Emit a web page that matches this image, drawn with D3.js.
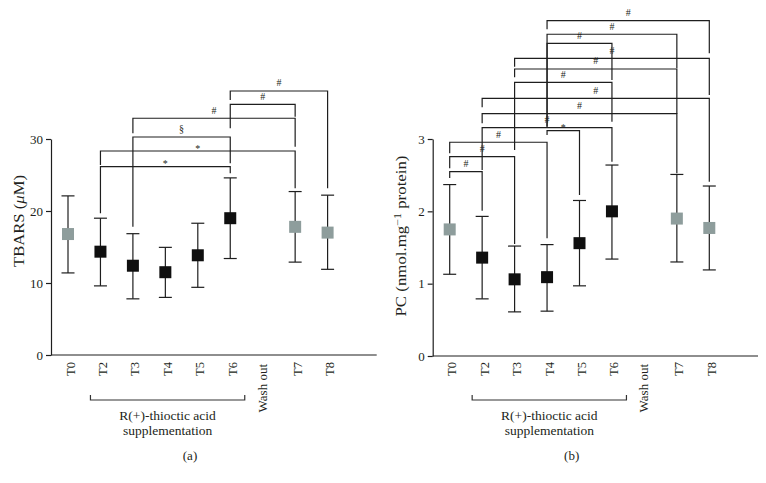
<!DOCTYPE html>
<html><head><meta charset="utf-8">
<script src="https://cdn.jsdelivr.net/npm/d3@7"></script>
<style>
body{margin:0;background:#fff}
svg{display:block}
text{font-family:"Liberation Serif","Times New Roman",serif;fill:#231f20}
</style>
</head><body>
<svg id="chart" width="766" height="483"></svg>
<script>
// ---- data ----
const categories = ["T0","T2","T3","T4","T5","T6","Wash out","T7","T8"];
const timepoints = ["T0","T2","T3","T4","T5","T6","T7","T8"];
const supplemented = [false,true,true,true,true,true,false,false];

const tbarsTicks = [0,10,20,30];
const tbarsMean = [16.8,14.35,12.4,11.5,13.85,19.0,17.8,17.0];
const tbarsLow  = [11.4,9.6,7.8,8.0,9.4,13.4,12.9,11.9];
const tbarsHigh = [22.1,19.0,16.85,14.95,18.3,24.6,22.7,22.2];

const tbarsBrFrom    = ["T2","T2","T3","T3","T6","T6"];
const tbarsBrTo      = ["T6","T7","T6","T7","T7","T8"];
const tbarsBrLevel   = [26.15,28.33,30.28,32.88,34.82,36.67];
const tbarsBrFromEnd = [19.68,26.39,17.82,30.79,31.49,35.42];
const tbarsBrToEnd   = [25.24,23.15,26.63,28.93,33.1,23.15];
const tbarsBrMark    = ["*","*","§","#","#","#"];

const pcTicks = [0,1,2,3];
const pcMean = [1.75,1.36,1.06,1.09,1.56,2.00,1.90,1.77];
const pcLow  = [1.13,0.79,0.61,0.62,0.97,1.34,1.30,1.19];
const pcHigh = [2.37,1.93,1.52,1.54,2.15,2.64,2.51,2.35];

const pcBrFrom    = ["T4","T4","T4","T3","T3","T3","T2","T2","T2","T4","T0","T0","T0"];
const pcBrTo      = ["T8","T7","T6","T8","T7","T6","T8","T7","T6","T5","T4","T3","T2"];
const pcBrLevel   = [4.636,4.448,4.323,4.116,3.968,3.784,3.563,3.350,3.156,3.115,2.955,2.755,2.548];
const pcBrFromEnd = [4.517,3.170,3.170,4.0,3.853,2.848,3.438,3.217,2.572,3.055,2.802,2.595,2.461];
const pcBrToEnd   = [4.185,3.978,3.816,3.608,3.350,3.239,2.410,2.526,2.686,2.226,1.627,1.548,2.009];
const pcBrMark    = ["#","#","#","#","#","#","#","#","#","*","#","#","#"];

const suppText = ["R(+)-thioctic acid","supplementation"];

// ---- drawing ----
const svg = d3.select("#chart");
const GRAY = "#8e9d9c", BLACK = "#0f0f0f", LINE = "#1e1e1e";

function panel(o) {
  const g = svg.append("g");
  const x = d3.scalePoint().domain(categories).range([o.axisX + 17, o.axisX + 17 + 8 * 32.45]);
  const y = d3.scaleLinear().domain([0, o.yMax]).range([o.axisY, o.yTop]);

  // y axis
  const ya = g.append("g").attr("transform", `translate(${o.axisX},0)`)
    .call(d3.axisLeft(y).tickValues(o.ticks).tickSize(5).tickSizeOuter(0).tickPadding(3).tickFormat(d3.format("d")));
  ya.selectAll("path,line").attr("stroke", LINE).attr("stroke-width", 1.2);
  ya.selectAll("text").attr("font-size", 13).attr("font-family", "Liberation Serif").attr("fill", "#231f20");

  // x axis line
  g.append("line").attr("x1", o.axisX).attr("x2", o.axisEnd).attr("y1", o.axisY).attr("y2", o.axisY)
    .attr("stroke", LINE).attr("stroke-width", 1.2);

  // x tick labels
  categories.forEach(c => {
    const wash = c === "Wash out";
    g.append("text")
      .attr("transform", `translate(${x(c) + (wash ? 4 : 6.5)},${wash ? 364 : 362}) rotate(-90)`)
      .attr("text-anchor", "end").attr("font-size", wash ? 13 : 12.5).text(c);
  });

  // y label
  const yl = g.append("text")
    .attr("transform", `translate(${o.yLabX},${o.yLabY}) rotate(-90)`)
    .attr("text-anchor", "middle").attr("font-size", 14)
    .attr("textLength", o.yLabLen).attr("lengthAdjust", "spacingAndGlyphs");
  o.yLabel(yl);

  // brackets
  o.brFrom.forEach((f, i) => {
    const t = o.brTo[i];
    g.append("path")
      .attr("d", `M${x(f)},${y(o.brFromEnd[i])}V${y(o.brLevel[i])}H${x(t)}V${y(o.brToEnd[i])}`)
      .attr("fill", "none").attr("stroke", LINE).attr("stroke-width", 1.2);
    const m = o.brMark[i];
    g.append("text").attr("x", (x(f) + x(t)) / 2).attr("y", y(o.brLevel[i]) + (m === "*" ? 0.5 : -4.5))
      .attr("text-anchor", "middle").attr("font-size", 10).text(m);
  });

  // error bars + squares
  timepoints.forEach((c, i) => {
    const cx = x(c);
    g.append("line").attr("x1", cx).attr("x2", cx).attr("y1", y(o.low[i])).attr("y2", y(o.high[i]))
      .attr("stroke", LINE).attr("stroke-width", 1.2);
    [o.low[i], o.high[i]].forEach(v => {
      g.append("line").attr("x1", cx - 6.5).attr("x2", cx + 6.5).attr("y1", y(v)).attr("y2", y(v))
        .attr("stroke", LINE).attr("stroke-width", 1.2);
    });
    g.append("rect").attr("x", cx - 6).attr("y", y(o.mean[i]) - 6).attr("width", 12).attr("height", 12)
      .attr("fill", supplemented[i] ? BLACK : GRAY);
  });

  // supplementation bracket
  const bx1 = x("T2") - 10, bx2 = x("T6") + 14.5;
  g.append("path").attr("d", `M${bx1},395V400H${bx2}V395`).attr("fill", "none")
    .attr("stroke", "#333").attr("stroke-width", 1.2);
  suppText.forEach((s, k) => {
    g.append("text").attr("x", (bx1 + bx2) / 2).attr("y", 419.5 + k * 15)
      .attr("text-anchor", "middle").attr("font-size", 13.5).text(s);
  });

  g.append("text").attr("x", o.axisX + 139).attr("y", 460).attr("text-anchor", "middle")
    .attr("font-size", 13).text(o.tag);
}

panel({
  axisX: 51, axisY: 355, axisEnd: 376.7, yTop: 139, yMax: 30, ticks: tbarsTicks,
  mean: tbarsMean, low: tbarsLow, high: tbarsHigh,
  brFrom: tbarsBrFrom, brTo: tbarsBrTo, brLevel: tbarsBrLevel,
  brFromEnd: tbarsBrFromEnd, brToEnd: tbarsBrToEnd, brMark: tbarsBrMark,
  yLabX: 23.5, yLabY: 221, yLabLen: 92,
  yLabel: t => { t.append("tspan").text("TBARS ("); t.append("tspan").attr("font-style","italic").text("μ"); t.append("tspan").text("M)"); },
  tag: "(a)"
});

panel({
  axisX: 432.7, axisY: 356, axisEnd: 758, yTop: 139, yMax: 3, ticks: pcTicks,
  mean: pcMean, low: pcLow, high: pcHigh,
  brFrom: pcBrFrom, brTo: pcBrTo, brLevel: pcBrLevel,
  brFromEnd: pcBrFromEnd, brToEnd: pcBrToEnd, brMark: pcBrMark,
  yLabX: 405.5, yLabY: 236, yLabLen: 161,
  yLabel: t => { t.append("tspan").text("PC (nmol.mg"); t.append("tspan").attr("dy", -5).attr("font-size", 10).text("−1"); t.append("tspan").attr("dy", 5).text(" protein)"); },
  tag: "(b)"
});
</script>
</body></html>
